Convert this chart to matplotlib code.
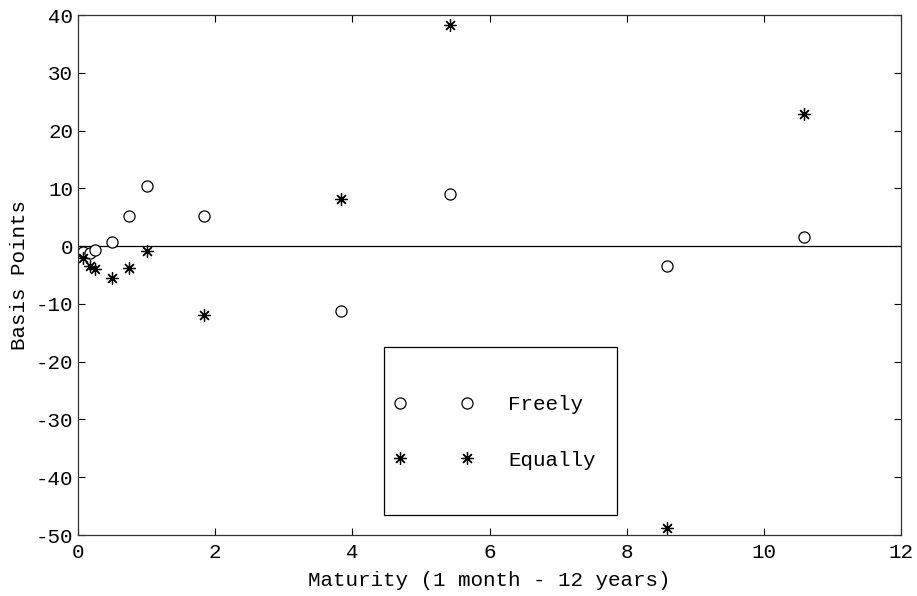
import matplotlib
matplotlib.use("Agg")
import matplotlib.pyplot as plt
from matplotlib.patches import Rectangle

# maturities in years, pricing errors in basis points
maturity = [0.08, 0.17, 0.25, 0.5, 0.75, 1.0, 1.84, 3.84, 5.42, 8.59, 10.58]
freely = [-1.0, -1.2, -0.7, 0.8, 5.2, 10.4, 5.2, -11.2, 9.0, -3.4, 1.5]
equally = [-2.1, -3.5, -3.9, -5.5, -3.7, -0.9, -12.0, 8.1, 38.2, -48.8, 22.9]

plt.rcParams['font.family'] = ['Liberation Mono', 'DejaVu Sans Mono']
plt.rcParams['font.size'] = 15
plt.rcParams['axes.unicode_minus'] = False

fig = plt.figure(figsize=(9.17, 5.96), dpi=100)
ax = fig.add_axes([0.085, 0.1023, 0.8977, 0.8725])

ax.axhline(0, color='black', linewidth=0.9)
ax.plot(maturity, freely, linestyle='none', marker='o', markersize=8,
        markerfacecolor='white', markeredgecolor='black', markeredgewidth=0.9,
        label='Freely')
ax.plot(maturity, equally, linestyle='none', marker=(8, 2, 0), markersize=9,
        color='black', markeredgewidth=0.9, label='Equally')

ax.set_xlim(0, 12)
ax.set_ylim(-50, 40)
ax.set_xticks(range(0, 13, 2))
ax.set_yticks(range(-50, 41, 10))
ax.tick_params(direction='in', top=True, right=True, length=5, width=0.8,
               labelsize=15)
ax.tick_params(axis='x', pad=5.5)
for s in ax.spines.values():
    s.set_linewidth(0.9)
    s.set_color('#333333')

ax.set_xlabel('Maturity (1 month - 12 years)', labelpad=7)
ax.set_ylabel('Basis Points', labelpad=5)

# legend without its own frame, boxed by a separate rectangle
leg = ax.legend(loc='upper left', bbox_to_anchor=(0.384, 0.269), numpoints=2,
                handlelength=3.8, handletextpad=1.67, borderpad=0,
                labelspacing=1.75, frameon=False, borderaxespad=0)
ax.add_patch(Rectangle((0.3718, 0.0385), 0.2832, 0.323, transform=ax.transAxes,
                       fill=False, edgecolor='black', linewidth=0.9, zorder=5))

fig.savefig('out.png', dpi=100)
